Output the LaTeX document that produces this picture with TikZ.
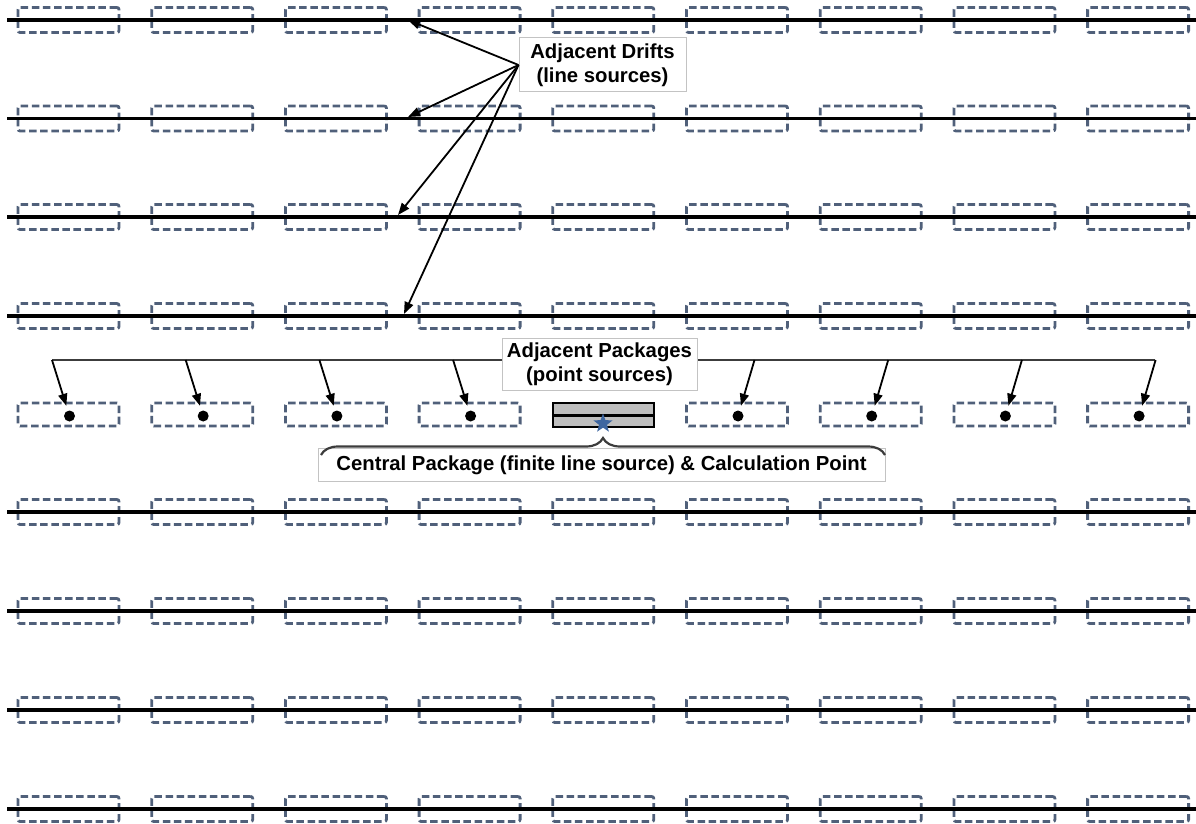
\documentclass[tikz,border=0pt]{standalone}
\usepackage{fontspec}
\setmainfont{Liberation Sans}
\usepackage{xcolor}
\usepackage{tikz}
\usetikzlibrary{arrows.meta, shapes.geometric, decorations.pathreplacing, calc}
\definecolor{pkgslate}{RGB}{80,96,122}
\definecolor{boxgray}{RGB}{195,195,195}
\definecolor{canfill}{RGB}{190,190,190}
\definecolor{starblue}{RGB}{62,102,160}
\definecolor{bracegray}{RGB}{60,60,60}

\begin{document}
\begin{tikzpicture}[x=1pt, y=-1pt,
  pkg/.style={draw=pkgslate, line width=2.8pt, dash pattern=on 7.5pt off 3.6pt,
              rounded corners=2pt, minimum width=101pt, minimum height=23pt,
              inner sep=0pt},
  drift/.style={line width=3.6pt, black},
  lbl/.style={draw=boxgray, fill=white, line width=1pt, inner sep=1pt,
              font=\fontsize{20.3}{24}\selectfont\bfseries, align=center},
  arrow/.style={-{Triangle[length=12pt,width=9pt]}, line width=1.8pt},
  src/.style={circle, fill=black, inner sep=0pt, minimum size=11pt},
  bracket/.style={line width=1.8pt, bracegray},
]
\useasboundingbox (0,0) rectangle (1196,824);

%% Drift rows (line sources)
\foreach \r/\yy in {1/20,2/118.5,3/217,4/316,5/512,6/611,7/710,8/809}{
  \foreach \c in {0,...,8}
    \node[pkg, minimum height=25pt] (p\r-\c) at ({68.5+133.7*\c},\yy) {};
  \draw[drift] (7,\yy) -- (1196,\yy);
}

%% Package row
\foreach \c in {0,1,2,3,5,6,7,8}{
  \node[pkg] (q\c) at ({68.5+133.7*\c},414.5) {};
  \node[src] (s\c) at ({69.5+133.7*\c},416) {};
}
\node[draw, fill=canfill, line width=2.4pt, minimum width=101pt,
      minimum height=24pt, inner sep=0pt] (cpkg) at (603.5,415) {};
\draw[line width=3pt] (cpkg.west) -- (cpkg.east);
\node[star, star points=5, star point ratio=2.4, fill=starblue,
      minimum size=20pt, inner sep=0pt] (calc) at (603,423.5) {};

%% Adjacent drifts label
\node[lbl, minimum width=167pt, minimum height=54pt] (drifts) at (602.5,65)
  {Adjacent Drifts\\(line sources)};
\coordinate (t1) at (408,20);
\coordinate (t2) at (408,117);
\coordinate (t3) at (398,215);
\coordinate (t4) at (404,314);
\foreach \t in {1,...,4}
  \draw[arrow] (drifts.west) -- (t\t);

%% Adjacent packages label
\coordinate (bl) at (52,360);
\coordinate (br) at (1155,360);
\draw[bracket] (bl) -- (br);
\node[lbl, minimum width=195pt, minimum height=52pt] (packs) at (599.5,364)
  {Adjacent Packages\\(point sources)};
\foreach \c in {0,1,2,3}
  \draw[arrow, shorten >=5pt] ({52+133.7*\c},360) -- (s\c);
\foreach \c in {5,6,7,8}
  \draw[arrow, shorten >=5pt] ({86+133.7*\c},360) -- (s\c);

%% Central package label
\node[lbl, minimum width=567pt, minimum height=33pt] (central) at (601.5,465)
  {Central Package (finite line source) \& Calculation Point};
\draw[bracket, line width=2.2pt,
      decorate, decoration={brace, amplitude=17pt, aspect=0.5}]
  (321,455) -- (885,455);

\end{tikzpicture}
\end{document}
